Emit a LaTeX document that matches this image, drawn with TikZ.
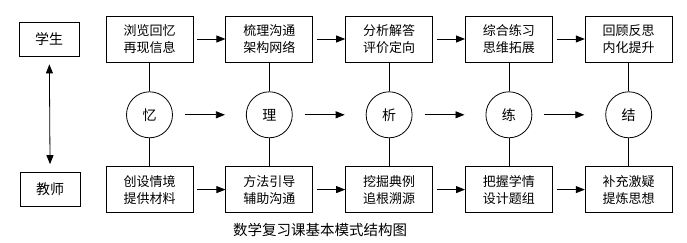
\documentclass[tikz,border=0pt]{standalone}
\usepackage{fontspec}
\setmainfont{Noto Sans CJK SC}
\usepackage{tikz}
\usetikzlibrary{arrows.meta,positioning}

\begin{document}
\begin{tikzpicture}[
  x=1pt,y=1pt,
  font=\fontsize{13}{17}\selectfont,
  stage/.style={draw,line width=0.8pt,align=center,minimum width=87pt,
    minimum height=46pt,inner sep=2pt},
  role/.style={draw,line width=0.8pt,minimum width=60pt,minimum height=34pt,
    font=\fontsize{14}{17}\selectfont},
  core/.style={circle,draw,line width=0.8pt,minimum size=46pt,inner sep=0pt,
    font=\fontsize{14}{17}\selectfont},
  flow/.style={-{Triangle[length=9pt,width=7pt]},line width=0.8pt},
  midflow/.style={flow,shorten <=12pt,shorten >=21pt},
  link/.style={line width=0.8pt}
]
  \useasboundingbox (0,0) rectangle (687,243);

  \node[stage] (sRecall) at (149.5,204) {浏览回忆\\再现信息};
  \node[stage,right=32pt of sRecall] (sSort) {梳理沟通\\架构网络};
  \node[stage,right=32pt of sSort] (sAnalyse) {分析解答\\评价定向};
  \node[stage,right=32pt of sAnalyse] (sPractise) {综合练习\\思维拓展};
  \node[stage,right=32pt of sPractise] (sReflect) {回顾反思\\内化提升};

  \node[core,below=29pt of sRecall] (recall) {忆};
  \node[core,below=29pt of sSort] (sort) {理};
  \node[core,below=29pt of sAnalyse] (analyse) {析};
  \node[core,below=29pt of sPractise] (practise) {练};
  \node[core,below=29pt of sReflect] (reflect) {结};

  \node[stage,below=28pt of recall] (tRecall) {创设情境\\提供材料};
  \node[stage,below=28pt of sort] (tSort) {方法引导\\辅助沟通};
  \node[stage,below=28pt of analyse] (tAnalyse) {挖掘典例\\追根溯源};
  \node[stage,below=28pt of practise] (tPractise) {把握学情\\设计题组};
  \node[stage,below=28pt of reflect] (tReflect) {补充激疑\\提炼思想};

  \node[role,left=26pt of sRecall] (student) {学生};
  \node[role,left=25pt of tRecall] (teacher) {教师};

  \draw[{Triangle[length=9pt,width=7pt]}-{Triangle[length=9pt,width=7pt]},
    line width=0.8pt,shorten <=8pt,shorten >=8pt] (student) -- (teacher);

  \draw[flow,shorten <=4pt] (sRecall) -- (sSort);
  \draw[flow,shorten <=4pt] (sSort) -- (sAnalyse);
  \draw[flow,shorten <=4pt] (sAnalyse) -- (sPractise);
  \draw[flow,shorten <=4pt] (sPractise) -- (sReflect);

  \draw[midflow] (recall) -- (sort);
  \draw[midflow] (sort) -- (analyse);
  \draw[midflow] (analyse) -- (practise);
  \draw[midflow] (practise) -- (reflect);

  \draw[flow,shorten <=4pt] (tRecall) -- (tSort);
  \draw[flow,shorten <=4pt] (tSort) -- (tAnalyse);
  \draw[flow,shorten <=4pt] (tAnalyse) -- (tPractise);
  \draw[flow,shorten <=4pt] (tPractise) -- (tReflect);

  \draw[link] (sRecall) -- (recall) -- (tRecall);
  \draw[link] (sSort) -- (sort) -- (tSort);
  \draw[link] (sAnalyse) -- (analyse) -- (tAnalyse);
  \draw[link] (sPractise) -- (practise) -- (tPractise);
  \draw[link] (sReflect) -- (reflect) -- (tReflect);

  \node[font=\fontsize{14.5}{17}\selectfont] (caption) at (320,13)
    {数学复习课基本模式结构图};
\end{tikzpicture}
\end{document}
